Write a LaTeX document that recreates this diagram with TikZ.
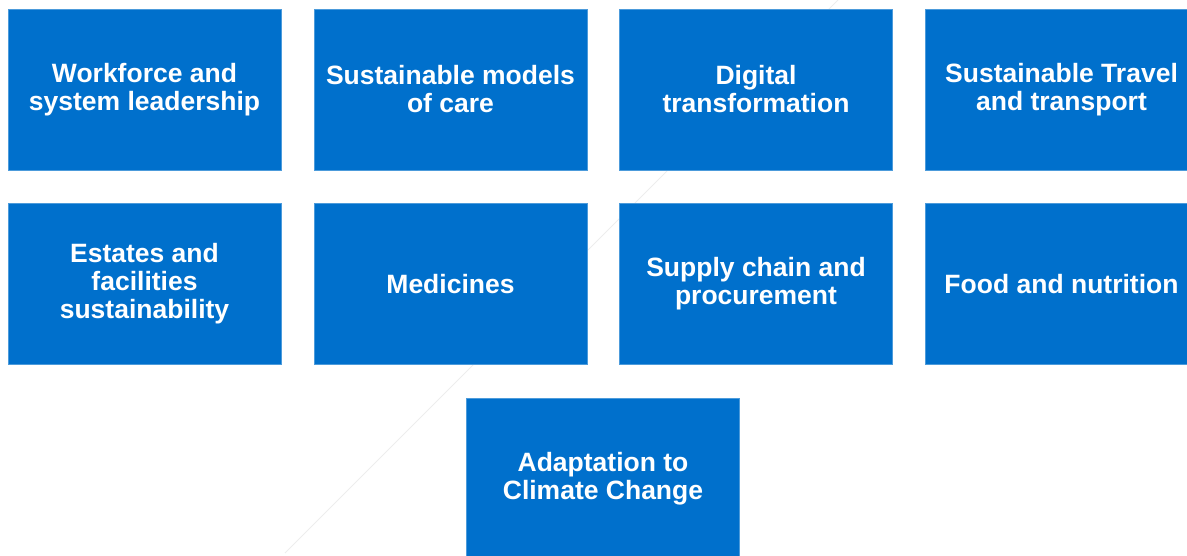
\documentclass[tikz,border=0pt]{standalone}
\usepackage{fontspec}
\setmainfont{Liberation Sans}
\definecolor{nhsblue}{HTML}{0070CC}
\tikzset{
  area/.style={fill=nhsblue, draw=nhsblue!70!white, line width=0.6pt, text=white,
    font=\fontsize{26.5}{28}\selectfont\bfseries, align=center,
    minimum width=273pt, minimum height=161pt, inner sep=0pt}
}

\begin{document}
\begin{tikzpicture}[x=1pt,y=-1pt]
        \useasboundingbox (0,0) rectangle (1187,555);
        \draw[black!7,line width=0.8pt] (285,553) -- (840,-2);
        \node[area] (workforce) at (144.5,89.5) {Workforce and\\system leadership};
        \node[area] (models) at (450.5,89.5) {Sustainable models\\of care};
        \node[area] (digital) at (756,89.5) {Digital\\transformation};
        \node[area] (travel) at (1061.5,89.5) {Sustainable Travel\\and transport};
        \node[area] (estates) at (144.5,284) {Estates and\\facilities\\sustainability};
        \node[area] (medicines) at (450.5,284) {Medicines};
        \node[area] (supply) at (756,284) {Supply chain and\\procurement};
        \node[area] (food) at (1061.5,284) {Food and nutrition};
        \node[area] (adaptation) at (603,478.5) {Adaptation to\\Climate Change};
    \end{tikzpicture}
\end{document}
